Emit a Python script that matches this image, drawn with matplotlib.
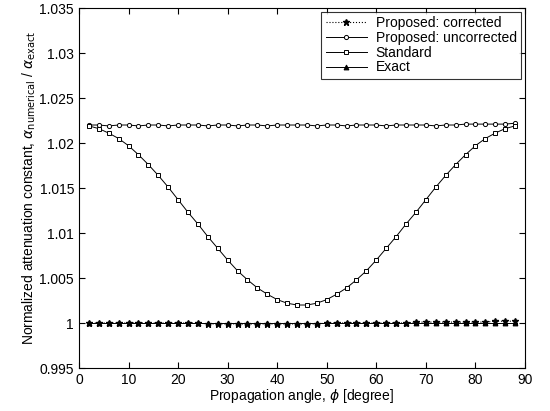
import matplotlib
matplotlib.use("Agg")
import matplotlib.pyplot as plt

plt.rcParams['font.family'] = ['Liberation Sans', 'DejaVu Sans']

angles = [2, 4, 6, 8, 10, 12, 14, 16, 18, 20, 22, 24, 26, 28, 30, 32, 34, 36, 38, 40, 42, 44,
          46, 48, 50, 52, 54, 56, 58, 60, 62, 64, 66, 68, 70, 72, 74, 76, 78, 80, 82, 84, 86, 88]

standard_half = [1.0219, 1.0216, 1.0211, 1.0205, 1.0197, 1.0187, 1.0176, 1.0164, 1.0151, 1.0137,
                 1.0123, 1.0110, 1.0096, 1.0083, 1.0070, 1.0058, 1.0048, 1.0039, 1.0032, 1.0026,
                 1.0022, 1.0020]
standard = standard_half + standard_half[::-1]

uncorrected = [1.0220, 1.0220, 1.0219, 1.0220, 1.0220, 1.0219, 1.0220, 1.0220, 1.0219, 1.0220,
               1.0220, 1.0220, 1.0219, 1.0220, 1.0220, 1.0219, 1.0220, 1.0220, 1.0219, 1.0220,
               1.0220, 1.0220, 1.0220, 1.0219, 1.0220, 1.0220, 1.0219, 1.0220, 1.0220, 1.0220,
               1.0219, 1.0220, 1.0220, 1.0220, 1.0220, 1.0219, 1.0220, 1.0220, 1.0221, 1.0221,
               1.0221, 1.0221, 1.0221, 1.0222]

corrected = [1.0000, 1.0000, 1.0000, 1.0000, 1.0000, 1.0000, 1.0000, 1.0000, 1.0000, 1.0000,
             1.0000, 1.0000, 0.9999, 0.9999, 0.9999, 0.9999, 0.9999, 0.9999, 0.9999, 0.9999,
             0.9999, 0.9999, 0.9999, 0.9999, 1.0000, 1.0000, 1.0000, 1.0000, 1.0000, 1.0000,
             1.0000, 1.0000, 1.0000, 1.0001, 1.0001, 1.0001, 1.0001, 1.0001, 1.0001, 1.0001,
             1.0001, 1.0002, 1.0002, 1.0002]

exact = [1.0] * len(angles)

xticks = [0, 10, 20, 30, 40, 50, 60, 70, 80, 90]
yticks = [0.995, 1.0, 1.005, 1.01, 1.015, 1.02, 1.025, 1.03, 1.035]
ytick_labels = ['0.995', '1', '1.005', '1.01', '1.015', '1.02', '1.025', '1.03', '1.035']

fig = plt.figure(figsize=(5.5, 4.11), dpi=100)
ax = fig.add_axes([0.1436, 0.1046, 0.8109, 0.8759])

ax.plot(angles, corrected, color='black', linestyle=':', linewidth=0.8, marker='*',
        markersize=4.5, label='Proposed: corrected')
ax.plot(angles, uncorrected, color='black', linestyle='-', linewidth=0.7, marker='o',
        markersize=3, markerfacecolor='white', markeredgewidth=0.7,
        label='Proposed: uncorrected')
ax.plot(angles, standard, color='black', linestyle='-', linewidth=0.7, marker='s',
        markersize=3, markerfacecolor='white', markeredgewidth=0.7, label='Standard')
ax.plot(angles, exact, color='black', linestyle='-', linewidth=0.7, marker='^',
        markersize=3.5, markerfacecolor='black', markeredgewidth=0.7, label='Exact')

ax.set_xlim(0, 90)
ax.set_ylim(0.995, 1.035)
ax.set_xticks(xticks)
ax.set_yticks(yticks)
ax.set_yticklabels(ytick_labels)
ax.tick_params(direction='in', top=True, right=True, labelsize=10, length=4, width=0.8)
for s in ax.spines.values():
    s.set_linewidth(0.8)

ax.set_xlabel('Propagation angle, $\\phi$ [degree]', fontsize=10, labelpad=0)
ax.set_ylabel('Normalized attenuation constant, $\\alpha_{\\mathrm{numerical}}$ / $\\alpha_{\\mathrm{exact}}$',
              fontsize=10, labelpad=1)

leg = ax.legend(loc='upper right', fontsize=10, frameon=True, fancybox=False,
                edgecolor='black', borderpad=0.3, labelspacing=0.05, handlelength=3.0,
                handletextpad=0.6, borderaxespad=0.3)
leg.get_frame().set_linewidth(0.8)

fig.savefig('out.png', dpi=100)
